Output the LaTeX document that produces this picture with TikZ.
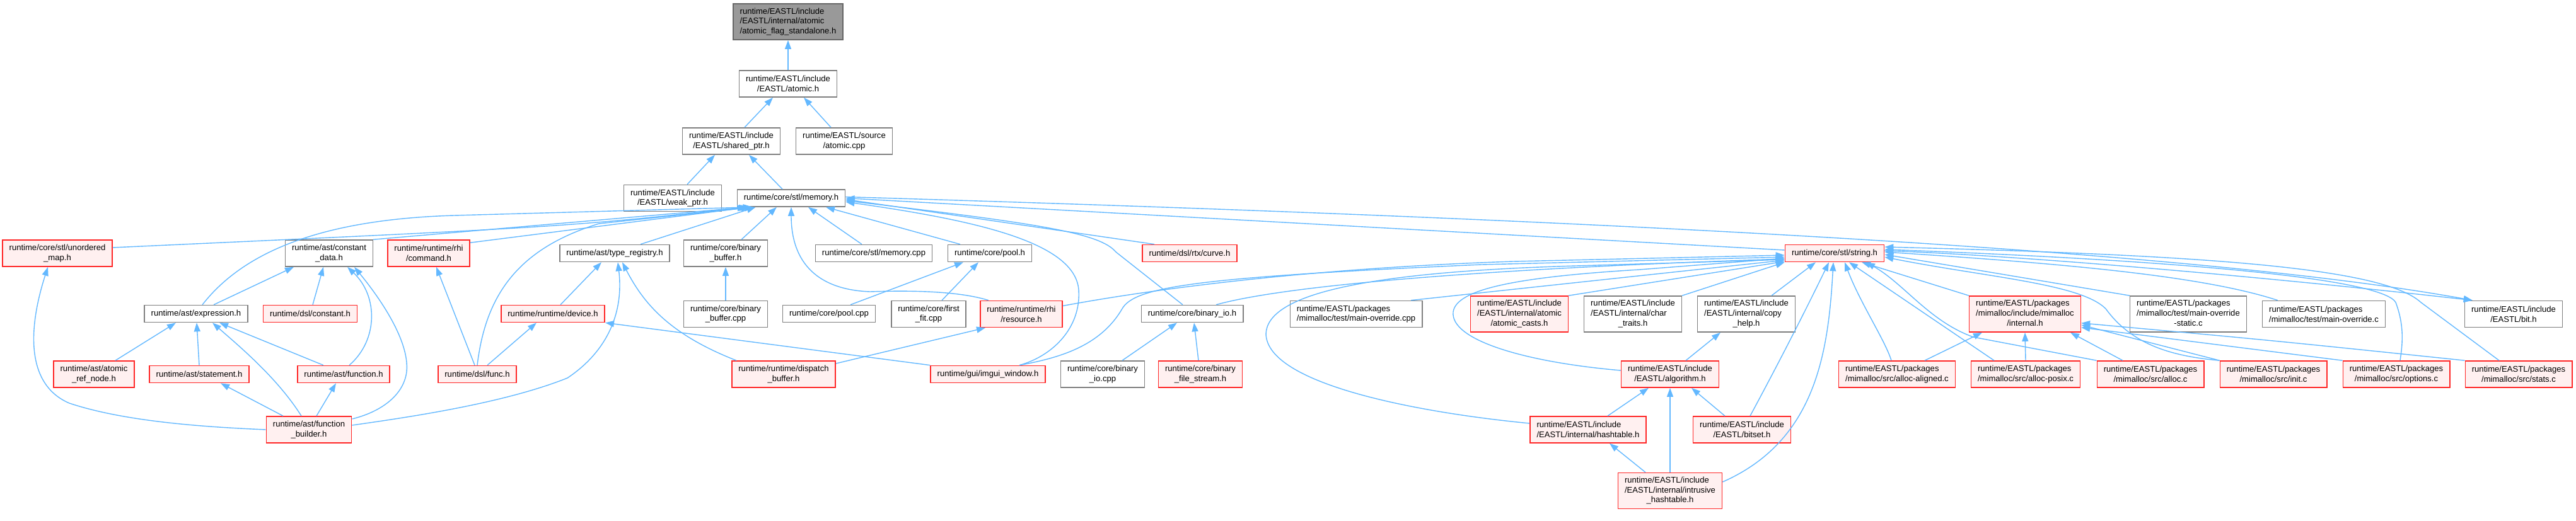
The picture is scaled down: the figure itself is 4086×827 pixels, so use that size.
\documentclass[tikz,border=0pt]{standalone}
\usepackage{fontspec}
\setmainfont{Liberation Sans}
\usetikzlibrary{arrows.meta}
\definecolor{edgeblue}{HTML}{63B8FF}
\definecolor{boxgray}{HTML}{7F7F7F}
\definecolor{boxred}{HTML}{FF2626}
\definecolor{boxpink}{HTML}{FFF0F0}
\definecolor{topfill}{HTML}{999999}
\definecolor{topborder}{HTML}{666666}
\newcommand{\lblfont}{\fontsize{3.72}{4.45}\selectfont}
\newcommand{\mixlbl}[3]{\begin{tabular}{@{}l@{}}#1\\#2\\\multicolumn{1}{@{}c@{}}{#3}\end{tabular}}
\begin{document}
\begin{tikzpicture}[x=0.01cm, y=-0.01cm]
      %% Styles of the include graph
      \tikzset
      {
      file/.style={draw=boxgray, fill=white, font=\lblfont, line width=0.45pt, inner xsep=3pt, inner ysep=0pt, align=center},
      redfile/.style={file, draw=boxred, fill=boxpink},
      topfile/.style={file, draw=topborder, fill=topfill},
      oneln/.style={minimum height=0.27cm},
      twoln/.style={minimum height=0.42cm},
      threeln/.style={minimum height=0.57cm},
      incl/.style={draw=edgeblue, line width=0.4pt, {Triangle[length=1.4mm,width=1mm]}-},
      }
      \useasboundingbox (0,0) rectangle (4086,827);
      %% Top chain
      \node[topfile, threeln, align=left] (top) at (1250,34.5) {runtime/EASTL/include\\/EASTL/internal/atomic\\/atomic\_flag\_standalone.h};
      \node[file, twoln] (atomic) at (1250,133) {runtime/EASTL/include\\/EASTL/atomic.h};
      \node[file, twoln] (sharedptr) at (1160,224) {runtime/EASTL/include\\/EASTL/shared\_ptr.h};
      \node[file, twoln] (atomiccpp) at (1339,224) {runtime/EASTL/source\\/atomic.cpp};
      \node[file, twoln] (weakptr) at (1067,314.5) {runtime/EASTL/include\\/EASTL/weak\_ptr.h};
      \node[file, oneln] (memory) at (1255,314.5) {runtime/core/stl/memory.h};
      %% Row 1
      \node[redfile, twoln] (umap) at (91,402) {runtime/core/stl/unordered\\\_map.h};
      \node[file, twoln] (constdata) at (522,402) {runtime/ast/constant\\\_data.h};
      \node[redfile, twoln] (command) at (680,402) {runtime/runtime/rhi\\/command.h};
      \node[file, oneln] (typereg) at (975,402) {runtime/ast/type\_registry.h};
      \node[file, twoln] (binbuf) at (1151,402) {runtime/core/binary\\\_buffer.h};
      \node[file, oneln] (memcpp) at (1386,402) {runtime/core/stl/memory.cpp};
      \node[file, oneln] (poolh) at (1570,402) {runtime/core/pool.h};
      \node[redfile, oneln] (curve) at (1887,402) {runtime/dsl/rtx/curve.h};
      \node[redfile, oneln] (string) at (2910,402) {runtime/core/stl/string.h};
      %% Row 2
      \node[file, oneln] (expr) at (311,498) {runtime/ast/expression.h};
      \node[redfile, oneln] (dslconst) at (492,498) {runtime/dsl/constant.h};
      \node[redfile, oneln] (device) at (877,498) {runtime/runtime/device.h};
      \node[file, twoln] (binbufcpp) at (1151,498.5) {runtime/core/binary\\\_buffer.cpp};
      \node[file, oneln] (poolcpp) at (1315,498) {runtime/core/pool.cpp};
      \node[file, twoln] (firstfit) at (1473,498.5) {runtime/core/first\\\_fit.cpp};
      \node[redfile, twoln] (resource) at (1620,498.5) {runtime/runtime/rhi\\/resource.h};
      \node[file, oneln] (binio) at (1891,498) {runtime/core/binary\_io.h};
      \node[file, twoln, align=left] (mainovcpp) at (2151,498.5) {runtime/EASTL/packages\\/mimalloc/test/main-override.cpp};
      \node[redfile, threeln] (atomcasts) at (2410,498.5) {\mixlbl{runtime/EASTL/include}{/EASTL/internal/atomic}{/atomic\_casts.h}};
      \node[file, threeln] (chartraits) at (2590,498.5) {\mixlbl{runtime/EASTL/include}{/EASTL/internal/char}{\_traits.h}};
      \node[file, threeln] (copyhelp) at (2770,498.5) {\mixlbl{runtime/EASTL/include}{/EASTL/internal/copy}{\_help.h}};
      \node[redfile, threeln] (internal) at (3212,498.5) {\mixlbl{runtime/EASTL/packages}{/mimalloc/include/mimalloc}{/internal.h}};
      \node[file, threeln] (mainovstatic) at (3471,498.5) {\mixlbl{runtime/EASTL/packages}{/mimalloc/test/main-override}{-static.c}};
      \node[file, twoln, align=left] (mainovc) at (3686,498.5) {runtime/EASTL/packages\\/mimalloc/test/main-override.c};
      \node[file, twoln] (bith) at (3987,498.5) {runtime/EASTL/include\\/EASTL/bit.h};
      %% Row 3
      \node[redfile, twoln] (atomicref) at (149,594) {runtime/ast/atomic\\\_ref\_node.h};
      \node[redfile, oneln] (statement) at (316,594) {runtime/ast/statement.h};
      \node[redfile, oneln] (function) at (545,594) {runtime/ast/function.h};
      \node[redfile, oneln] (func) at (757,594) {runtime/dsl/func.h};
      \node[redfile, twoln] (dispatch) at (1243,594) {runtime/runtime/dispatch\\\_buffer.h};
      \node[redfile, oneln] (imgui) at (1567,594) {runtime/gui/imgui\_window.h};
      \node[file, twoln] (binioccpp) at (1749,594) {runtime/core/binary\\\_io.cpp};
      \node[redfile, twoln] (binfile) at (1904,594) {runtime/core/binary\\\_file\_stream.h};
      \node[redfile, twoln] (algorithm) at (2649,594) {runtime/EASTL/include\\/EASTL/algorithm.h};
      \node[redfile, twoln, align=left] (allocaligned) at (3009,594) {runtime/EASTL/packages\\/mimalloc/src/alloc-aligned.c};
      \node[redfile, twoln, align=left] (allocposix) at (3213,594) {runtime/EASTL/packages\\/mimalloc/src/alloc-posix.c};
      \node[redfile, twoln] (alloc) at (3411,594) {runtime/EASTL/packages\\/mimalloc/src/alloc.c};
      \node[redfile, twoln] (init) at (3606,594) {runtime/EASTL/packages\\/mimalloc/src/init.c};
      \node[redfile, twoln] (options) at (3801,594) {runtime/EASTL/packages\\/mimalloc/src/options.c};
      \node[redfile, twoln] (stats) at (3995,594) {runtime/EASTL/packages\\/mimalloc/src/stats.c};
      %% Rows 4 and 5
      \node[redfile, twoln] (funcbuilder) at (490,682) {runtime/ast/function\\\_builder.h};
      \node[redfile, twoln, align=left] (hashtable) at (2519,682) {runtime/EASTL/include\\/EASTL/internal/hashtable.h};
      \node[redfile, twoln] (bitset) at (2763,682) {runtime/EASTL/include\\/EASTL/bitset.h};
      \node[redfile, threeln] (intrusive) at (2649,779) {\mixlbl{runtime/EASTL/include}{/EASTL/internal/intrusive}{\_hashtable.h}};
      %% Top chain edges
      \draw[incl] (top) -- (atomic);
      \draw[incl] ([xshift=-2.4mm]atomic.south) -- ([xshift=2.1mm]sharedptr.north);
      \draw[incl] ([xshift=2.5mm]atomic.south) -- ([xshift=-2.1mm]atomiccpp.north);
      \draw[incl] ([xshift=-2.6mm]sharedptr.south) -- ([xshift=2.3mm]weakptr.north);
      \draw[incl] ([xshift=2.8mm]sharedptr.south) -- ([xshift=-1.4mm]memory.north);
      %% Includers of memory.h
      \draw[incl] ([xshift=1.5mm]memory.south west) .. controls (900,360) .. ([yshift=0.9mm]umap.east);
      \draw[incl] ([xshift=1.8mm]memory.south west) -- (constdata.north east);
      \draw[incl] ([xshift=2.1mm]memory.south west) -- ([yshift=-0.5mm]command.north east);
      \draw[incl] ([xshift=2.4mm]memory.south west) -- (720,342) .. controls (520,348) and (390,395) .. ([xshift=1mm]expr.north);
      \draw[incl] ([xshift=2.7mm]memory.south west) -- (950,355) .. controls (820,395) and (770,470) .. (func.north);
      \draw[incl] ([xshift=3mm]memory.south west) -- ([xshift=4.1mm]typereg.north);
      \draw[incl] ([xshift=-2.3mm]memory.south) -- ([xshift=2.5mm]binbuf.north);
      \draw[incl] (memory.south) .. controls (1255,420) and (1300,460) .. (1380,463) .. controls (1470,460) and (1530,465) .. ([xshift=-5.2mm]resource.north);
      \draw[incl] ([xshift=2.7mm]memory.south) -- ([xshift=-1.9mm]memcpp.north);
      \draw[incl] ([xshift=5.5mm]memory.south) -- ([xshift=-4.7mm]poolh.north);
      \draw[incl] ([yshift=-0.6mm]memory.east) .. controls (1550,350) and (1705,385) .. (1711,460) .. controls (1715,520) and (1670,565) .. ([xshift=5mm]imgui.north);
      \draw[incl] ([yshift=-0.4mm]memory.east) .. controls (1650,355) and (1745,370) .. (1770,400) -- ([xshift=-1.5mm]binio.north);
      \draw[incl] ([yshift=-0.2mm]memory.east) -- ([xshift=-5.6mm]curve.north);
      \draw[incl] (memory.east) -- ([yshift=0.5mm]string.west);
      \draw[incl] ([xshift=1.3mm]bith.north west) .. controls (3500,400) and (2600,350) .. ([yshift=0.2mm]memory.east);
      %% Second level
      \draw[incl] ([xshift=-5.6mm]constdata.south) -- ([xshift=2.8mm]expr.north);
      \draw[incl] ([xshift=-0.9mm]constdata.south) -- ([xshift=0.4mm]dslconst.north);
      \draw[incl] ([xshift=2.9mm]constdata.south) .. controls (600,470) and (600,540) .. ([xshift=0.9mm]function.north);
      \draw[incl] ([xshift=4mm]constdata.south) .. controls (600,470) and (650,540) .. (645,590) .. controls (640,630) and (600,655) .. ([yshift=1.7mm]funcbuilder.east);
      \draw[incl] ([xshift=1.2mm]command.south) -- ([xshift=-0.4mm]func.north);
      \draw[incl] ([xshift=-2.1mm]typereg.south) -- ([xshift=1.2mm]device.north);
      \draw[incl] ([xshift=0.5mm]typereg.south) .. controls (990,500) and (960,560) .. (900,600) .. controls (800,640) and (650,662) .. ([yshift=0.7mm]funcbuilder.east);
      \draw[incl] ([xshift=1.2mm]typereg.south) .. controls (1020,480) and (1060,530) .. ([xshift=-7.5mm]dispatch.north);
      \draw[incl] (binbuf) -- (binbufcpp);
      \draw[incl] ([xshift=-4.2mm]poolh.south) -- ([xshift=3.4mm]poolcpp.north);
      \draw[incl] ([xshift=-1.8mm]poolh.south) -- ([xshift=2.1mm]firstfit.north);
      \draw[incl] ([xshift=-5.7mm]resource.south) -- ([yshift=1.7mm]dispatch.east);
      \draw[incl] ([xshift=-2.4mm]binio.south) -- ([xshift=3.1mm]binioccpp.north);
      \draw[incl] ([xshift=0.3mm]binio.south) -- ([xshift=-0.3mm]binfile.north);
      %% Third level
      \draw[incl] ([xshift=-3.2mm]expr.south) -- ([xshift=3.4mm]atomicref.north);
      \draw[incl] ([xshift=0.1mm]expr.south) -- (statement.north);
      \draw[incl] ([xshift=2.6mm]expr.south) .. controls (380,550) and (440,600) .. ([xshift=-1.2mm]funcbuilder.north);
      \draw[incl] ([xshift=3.7mm]expr.south) -- ([xshift=-3.2mm]function.north);
      \draw[incl] ([xshift=3.4mm]statement.south) -- ([xshift=-4.1mm]funcbuilder.north);
      \draw[incl] ([xshift=-1.2mm]function.south) -- ([xshift=1.2mm]funcbuilder.north);
      \draw[incl] ([xshift=-1.5mm]umap.south) .. controls (45,520) and (40,610) .. (110,640) .. controls (200,670) and (330,678) .. (funcbuilder.west);
      \draw[incl] ([xshift=-2.6mm]device.south) -- ([xshift=1.6mm]func.north);
      \draw[incl] (device.south east) -- (imgui.north west);
      %% Includers of string.h, left side
      \draw[incl] ([yshift=-0.3mm]string.west) -- (2400,415) .. controls (2100,425) and (1850,455) .. ([yshift=1.3mm]resource.east);
      \draw[incl] ([yshift=-0.6mm]string.west) -- (2350,420) .. controls (1900,440) and (1800,455) .. (1780,490) .. controls (1745,550) and (1680,568) .. ([xshift=5mm]imgui.north);
      \draw[incl] ([yshift=-0.9mm]string.west) .. controls (2400,425) and (2050,450) .. ([xshift=3.8mm]binio.north);
      \draw[incl] ([yshift=-1.1mm]string.west) -- ([xshift=8.7mm]mainovcpp.north);
      \draw[incl] ([yshift=-1.3mm]string.west) -- (atomcasts.north east);
      \draw[incl] (string.south west) -- (chartraits.north east);
      \draw[incl] ([yshift=-0.8mm]string.west) -- (2600,428) .. controls (2400,440) and (2310,460) .. (2305,495) .. controls (2300,540) and (2420,575) .. ([yshift=0.6mm]algorithm.west);
      \draw[incl] ([yshift=-1mm]string.west) -- (2500,422) .. controls (2150,432) and (2010,470) .. (2008,530) .. controls (2010,610) and (2250,655) .. ([yshift=1mm]hashtable.west);
      %% Includers of string.h, below
      \draw[incl] ([xshift=-3mm]string.south) -- ([xshift=4mm]copyhelp.north);
      \draw[incl] ([xshift=-0.9mm]string.south) .. controls (2870,480) and (2830,560) .. ([xshift=1.3mm]bitset.north);
      \draw[incl] ([xshift=-0.2mm]string.south) .. controls (2900,560) and (2880,700) .. ([yshift=1.4mm]intrusive.east);
      \draw[incl] ([xshift=1.6mm]string.south) .. controls (2950,480) and (2990,540) .. ([xshift=-0.9mm]allocaligned.north);
      \draw[incl] ([xshift=2.3mm]string.south) -- ([xshift=-5mm]allocposix.north);
      \draw[incl] ([xshift=4.3mm]string.south) -- (internal.north west);
      \draw[incl] ([xshift=5mm]string.south) .. controls (3020,450) and (3060,510) .. (3130,535) -- (alloc.north west);
      %% Includers of string.h, right side
      \draw[incl] ([yshift=-0.2mm]string.east) -- (mainovstatic.north west);
      \draw[incl] ([yshift=0.2mm]string.east) .. controls (3300,420) and (3500,440) .. ([xshift=2.5mm]mainovc.north west);
      \draw[incl] ([yshift=-0.6mm]string.east) .. controls (3150,440) and (3300,450) .. (3340,490) .. controls (3380,545) and (3440,565) .. (init.north west);
      \draw[incl] ([yshift=0.6mm]string.east) .. controls (3500,415) and (3780,445) .. (3800,480) .. controls (3815,520) and (3810,550) .. ([xshift=0.6mm]options.north);
      \draw[incl] ([yshift=1mm]string.east) .. controls (3500,405) and (3780,425) .. (3840,480) -- ([xshift=-3.1mm]stats.north);
      \draw[incl] ([xshift=1.3mm]bith.north west) .. controls (3600,440) and (3200,405) .. ([yshift=0.4mm]string.east);
      %% Includers of internal.h
      \draw[incl] ([xshift=-6.8mm]internal.south) -- ([xshift=4.4mm]allocaligned.north);
      \draw[incl] (internal.south) -- (allocposix.north);
      \draw[incl] ([xshift=7.2mm]internal.south) -- ([xshift=-4.4mm]alloc.north);
      \draw[incl] ([yshift=1.2mm]internal.south east) -- (init.north west);
      \draw[incl] ([yshift=0.8mm]internal.south east) -- (options.north west);
      \draw[incl] ([yshift=1.5mm]internal.south east) .. controls (3600,540) .. (stats.north west);
      %% Algorithm cluster
      \draw[incl] ([xshift=-4.1mm]copyhelp.south) -- ([xshift=2.5mm]algorithm.north);
      \draw[incl] ([xshift=-3.4mm]algorithm.south) -- ([xshift=3.1mm]hashtable.north);
      \draw[incl] (algorithm) -- (intrusive);
      \draw[incl] ([xshift=3.4mm]algorithm.south) -- ([xshift=-2.7mm]bitset.north);
      \draw[incl] ([xshift=3.4mm]hashtable.south) -- ([xshift=-3.9mm]intrusive.north);
\end{tikzpicture}
\end{document}
